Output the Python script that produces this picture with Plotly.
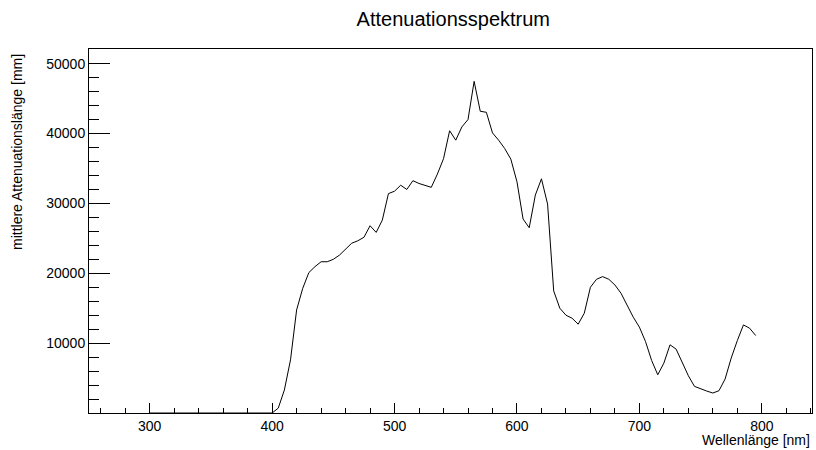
import plotly.graph_objects as go

wavelength = list(range(300, 800, 5))

attenuation_low = [0] * 20  # 300..395 nm
attenuation_main = [
    0, 700, 3300, 7600, 14750, 17850, 20100, 20950, 21650, 21650,      # 400-445
    22000, 22600, 23400, 24300, 24650, 25150, 26800, 25850, 27600, 31400,  # 450-495
    31750, 32600, 32000, 33250, 32850, 32550, 32300, 34200, 36400, 40400,  # 500-545
    39050, 40950, 42000, 47470, 43190, 43040, 40090, 39050, 37850, 36330,  # 550-595
    33090, 27760, 26520, 31190, 33520, 29900, 17470, 15000, 14000, 13570,  # 600-645
    12710, 14290, 18000, 19140, 19520, 19140, 18330, 17140, 15470, 13710,  # 650-695
    12300, 10230, 7520, 5470, 7140, 9760, 9140, 7230, 5330, 3810,          # 700-745
    3430, 3140, 2860, 3190, 4860, 7860, 10370, 12610, 12140, 11090,        # 750-795
]
attenuation = attenuation_low + attenuation_main

fig = go.Figure()
fig.add_trace(go.Scatter(
    x=wavelength, y=attenuation, mode="lines",
    line=dict(color="black", width=1),
    showlegend=False, hoverinfo="skip", cliponaxis=False,
))

font = "Liberation Sans, Arial, Helvetica, sans-serif"
fig.update_layout(
    width=816, height=450,
    margin=dict(l=89, r=4, t=49, b=37),
    paper_bgcolor="white", plot_bgcolor="white",
    font=dict(family=font, color="black", size=14),
    title=dict(text="Attenuationsspektrum", x=453.3 / 816, xref="container", xanchor="center",
               y=1 - 19 / 450, yref="container", yanchor="middle",
               font=dict(size=20, family=font, color="black")),
    xaxis=dict(
        range=[250.4, 841], showgrid=False, zeroline=False,
        showline=True, linecolor="black", linewidth=1, mirror=True,
        ticks="inside", ticklen=10, tickcolor="black", tickwidth=1,
        tick0=300, dtick=100, tickfont=dict(size=14),
        minor=dict(ticks="inside", ticklen=5, tickcolor="black", tickwidth=1, tick0=0, dtick=20),
    ),
    yaxis=dict(
        range=[0, 52100], showgrid=False, zeroline=False,
        showline=True, linecolor="black", linewidth=1, mirror=True,
        ticks="inside", ticklen=21, tickcolor="black", tickwidth=1,
        tickmode="linear", tick0=0, dtick=10000, tickformat="d",
        labelalias={"0": " "}, tickfont=dict(size=14),
        minor=dict(ticks="inside", ticklen=10, tickcolor="black", tickwidth=1, tick0=0, dtick=2000),
    ),
    annotations=[
        dict(text="Wellenlänge [nm]", xref="paper", yref="paper", x=1, y=0,
             xanchor="right", yanchor="middle", yshift=-27, showarrow=False,
             font=dict(size=14, family=font, color="black")),
        dict(text="mittlere Attenuationslänge [mm]", xref="paper", yref="paper", x=0,
             y=(413 - 52) / 364, xanchor="center", yanchor="top", xshift=-72,
             textangle=-90, showarrow=False,
             font=dict(size=14, family=font, color="black")),
    ],
)

fig.write_html("out.html")
